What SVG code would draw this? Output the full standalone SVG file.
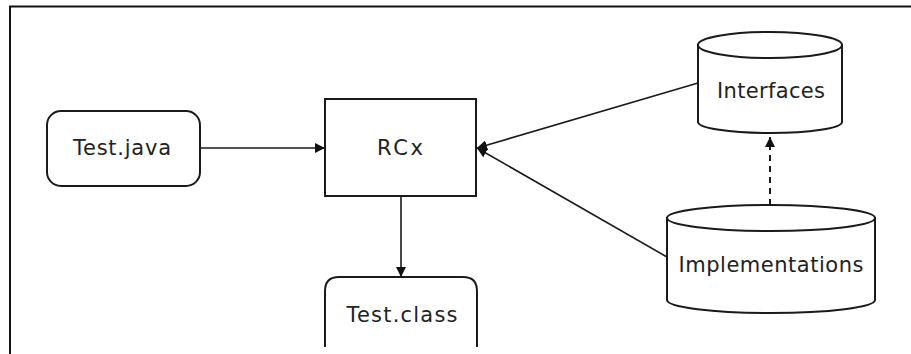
<svg xmlns="http://www.w3.org/2000/svg" width="911" height="354" viewBox="0 0 911 354">
  <style>
    .shape { fill: #fff; stroke: #1a1a1a; stroke-width: 2; }
    .label { font-family: "DejaVu Sans", "Liberation Sans", sans-serif; font-size: 21px; fill: #222; text-anchor: middle; }
    .edge { fill: none; stroke: #1a1a1a; stroke-width: 1.6; }
    .dashed { stroke-dasharray: 6 5; stroke-width: 2; }
  </style>
  <defs>
    <marker id="arrow" viewBox="0 0 10 10" refX="10" refY="5" markerWidth="10" markerHeight="10" markerUnits="userSpaceOnUse" orient="auto">
      <path d="M0,0 L10,5 L0,10 Z" fill="#111"/>
    </marker>
  </defs>

  <rect width="911" height="354" fill="#fff"/>

  <!-- frame (top and left edges) -->
  <path d="M10,354 V6.5 H911" fill="none" stroke="#111" stroke-width="2"/>

  <g id="connectors">
    <line class="edge" x1="200" y1="148" x2="325" y2="148" marker-end="url(#arrow)"/>
    <line class="edge" x1="401" y1="197" x2="401" y2="277" marker-end="url(#arrow)"/>
    <line class="edge" x1="698" y1="83" x2="477" y2="148" marker-end="url(#arrow)"/>
    <line class="edge" x1="667" y1="257" x2="477" y2="148" marker-end="url(#arrow)"/>
    <line class="edge dashed" x1="770" y1="205" x2="770" y2="137" marker-end="url(#arrow)"/>
  </g>

  <g id="test-java">
    <rect class="shape" x="47" y="111" width="153" height="75" rx="14"/>
    <text class="label" x="122" y="155" textLength="98" lengthAdjust="spacing">Test.java</text>
  </g>

  <g id="rcx">
    <rect class="shape" x="325" y="99" width="151" height="97"/>
    <text class="label" x="400" y="155" textLength="46" lengthAdjust="spacing">RCx</text>
  </g>

  <g id="test-class">
    <path class="shape" d="M325,347 V291 Q325,277 339,277 H463 Q477,277 477,291 V347"/>
    <text class="label" x="402" y="322" textLength="111" lengthAdjust="spacing">Test.class</text>
  </g>

  <g id="interfaces">
    <path class="shape" d="M698,45 V122 A72,11 0 0 0 842,122 V45 Z"/>
    <ellipse class="shape" cx="770" cy="45" rx="72" ry="13"/>
    <text class="label" x="771" y="98" textLength="108" lengthAdjust="spacing">Interfaces</text>
  </g>

  <g id="implementations">
    <path class="shape" d="M667,218 V300 A104,13 0 0 0 875,300 V218 Z"/>
    <ellipse class="shape" cx="771" cy="218" rx="104" ry="13"/>
    <text class="label" x="771" y="272" textLength="185" lengthAdjust="spacing">Implementations</text>
  </g>
</svg>
